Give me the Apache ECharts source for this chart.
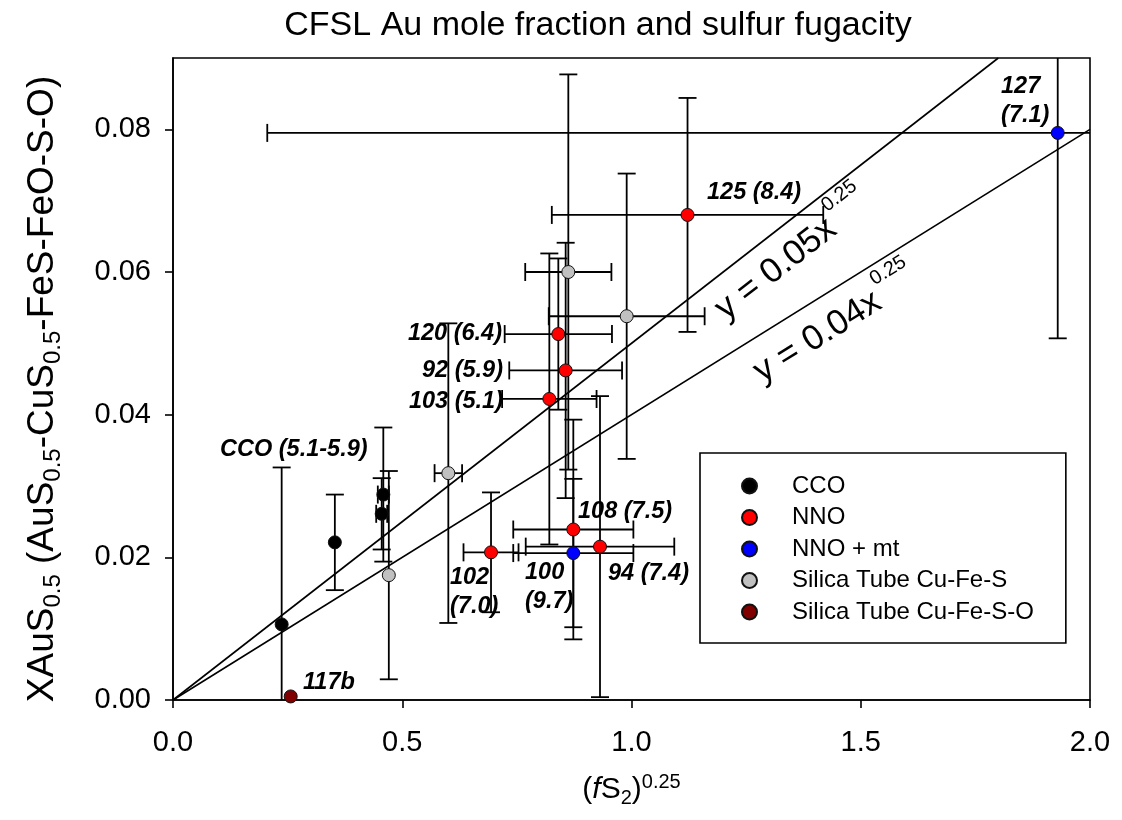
<!DOCTYPE html>
<html><head><meta charset="utf-8">
<script src="https://cdn.jsdelivr.net/npm/echarts@6/dist/echarts.min.js"></script>
<style>html,body{margin:0;padding:0;background:#fff}#c{width:1122px;height:820px}</style>
</head><body><div id="c"></div>
<script>
const FONT = '"Liberation Sans", Arial, Helvetica, sans-serif';

// ---------- data ----------
const legendNames = ['CCO', 'NNO', 'NNO + mt', 'Silica Tube Cu-Fe-S', 'Silica Tube Cu-Fe-S-O'];
const groupColors = ['#000000', '#ff0000', '#0000ff', '#c0c0c0', '#800000'];

const ccoX    = [0.237, 0.353, 0.4587, 0.4552];
const ccoY    = [0.0106, 0.0221, 0.0288, 0.0261];
const ccoXErr = [0, 0, 0.012, 0.012];
const ccoYErr = [0.022, 0.0067, 0.0094, 0.005];

const nnoX    = [1.1222, 0.8404, 0.8564, 0.8208, 0.8731, 0.6936, 0.9313];
const nnoY    = [0.0680, 0.0513, 0.0462, 0.0422, 0.0239, 0.0207, 0.0215];
const nnoXErr = [0.296, 0.117, 0.123, 0.103, 0.131, 0.060, 0.162];
const nnoYErr = [0.0164, 0.0106, 0.0179, 0.0204, 0.0154, 0.0084, 0.0211];

const mtX    = [1.9296, 0.8731];
const mtY    = [0.0795, 0.0206];
const mtXErr = [1.724, 0.131];
const mtYErr = [0.0288, 0.0104];

const stX    = [0.4707, 0.6005, 0.8622, 0.9895];
const stY    = [0.0175, 0.0318, 0.0600, 0.0538];
const stXErr = [0, 0.030, 0.094, 0.170];
const stYErr = [0.0146, 0.0210, 0.0277, 0.0200];

const stoX    = [0.2567];
const stoY    = [0.0005];
const stoXErr = [0];
const stoYErr = [0];

// trend lines y = k * (fS2)^0.25
const trendSlopes = [0.05, 0.04];
const trendText = ['y = 0.05x', 'y = 0.04x'];
const trendSup = '0.25';
const trendLabelX = [1.315, 1.4057];
const trendLabelY = [0.0604, 0.0509];

// point annotations (text, anchor in data units, alignment)
const annoText  = ['CCO (5.1-5.9)', '117b', '120 (6.4)', '92 (5.9)', '103 (5.1)', '125 (8.4)', '127\n(7.1)', '108 (7.5)', '102\n(7.0)', '100\n(9.7)', '94 (7.4)'];
const annoX     = [0.1025, 0.2835, 0.7176, 0.7197, 0.7197, 1.1647, 1.806, 0.8833, 0.6041, 0.7677, 0.9487];
const annoY     = [0.0351, 0.0024, 0.0514, 0.0462, 0.0419, 0.0711, 0.0839, 0.0264, 0.0152, 0.0158, 0.0178];
const annoAlign = ['left', 'left', 'right', 'right', 'right', 'left', 'left', 'left', 'left', 'left', 'left'];

const xTicks = [0, 0.5, 1.0, 1.5, 2.0];
const yTicks = [0, 0.02, 0.04, 0.06, 0.08];

// ---------- build ----------
const groups = [
  [ccoX, ccoY, ccoXErr, ccoYErr],
  [nnoX, nnoY, nnoXErr, nnoYErr],
  [mtX, mtY, mtXErr, mtYErr],
  [stX, stY, stXErr, stYErr],
  [stoX, stoY, stoXErr, stoYErr]
];

function errRender(params, api) {
  const x = api.value(0), y = api.value(1), xe = api.value(2), ye = api.value(3);
  const st = { stroke: '#000', lineWidth: 1.8, fill: null };
  const cap = 9;
  const ch = [];
  const L = (x1, y1, x2, y2) => ch.push({ type: 'line', shape: { x1, y1, x2, y2 }, style: st });
  if (ye > 0) {
    const t = api.coord([x, y + ye]), b = api.coord([x, y - ye]);
    L(t[0], t[1], b[0], b[1]);
    L(t[0] - cap, t[1], t[0] + cap, t[1]);
    L(b[0] - cap, b[1], b[0] + cap, b[1]);
  }
  if (xe > 0) {
    const l = api.coord([x - xe, y]), r = api.coord([x + xe, y]);
    L(l[0], l[1], r[0], r[1]);
    L(l[0], l[1] - cap, l[0], l[1] + cap);
    L(r[0], r[1] - cap, r[0], r[1] + cap);
  }
  const cs = params.coordSys;
  return { type: 'group', children: ch,
    clipPath: { type: 'rect', shape: { x: cs.x, y: cs.y, width: cs.width, height: cs.height } } };
}

const series = [];
groups.forEach((g, i) => {
  const d = g[0].map((v, k) => [v, g[1][k], g[2][k], g[3][k]]);
  series.push({
    name: 'err-' + i, type: 'custom', renderItem: errRender, data: d, z: 2, silent: true,
    encode: { x: 0, y: 1 }
  });
});
trendSlopes.forEach((k, i) => {
  const xEnd = Math.min(2, 0.09 / k);
  series.push({
    name: 'trend-' + i, type: 'line', data: [[0, 0], [xEnd, k * xEnd]],
    showSymbol: false, silent: true, z: 2,
    lineStyle: { color: '#000', width: 1.6 }
  });
});
groups.forEach((g, i) => {
  series.push({
    name: legendNames[i], type: 'scatter', z: 5,
    data: g[0].map((v, k) => [v, g[1][k]]),
    symbol: 'circle', symbolSize: 13,
    itemStyle: { color: groupColors[i], borderColor: '#111', borderWidth: 1, opacity: 1 }
  });
});

const chart = echarts.init(document.getElementById('c'), null, { renderer: 'canvas' });
const option = {
  animation: false,
  backgroundColor: '#fff',
  title: {
    text: 'CFSL Au mole fraction and sulfur fugacity',
    left: 593, top: 4, textAlign: 'center',
    textStyle: { fontSize: 34, fontWeight: 'normal', color: '#000', fontFamily: FONT }
  },
  grid: { left: 173, right: 32, top: 58, bottom: 120, show: true, borderColor: '#000', borderWidth: 1.6, backgroundColor: 'transparent' },
  legend: {
    data: legendNames, orient: 'vertical', left: 700, top: 453,
    itemWidth: 15, itemHeight: 15, itemGap: 7.5,
    padding: [21, 32, 19, 41],
    borderColor: '#000', borderWidth: 1.6, backgroundColor: '#fff',
    selectedMode: false,
    formatter: n => '{t|' + n + '}',
    textStyle: { fontSize: 24, color: '#000', fontFamily: FONT,
      rich: { t: { fontSize: 24, color: '#000', fontFamily: FONT, padding: [0, 0, 0, 30] } } }
  },
  xAxis: {
    type: 'value', min: 0, max: 2, interval: 0.5,
    axisLine: { lineStyle: { color: '#000', width: 1.6 } },
    axisTick: { length: 8, lineStyle: { color: '#000', width: 1.6 }, customValues: xTicks },
    axisLabel: { fontSize: 29, color: '#000', fontFamily: FONT, margin: 28, customValues: xTicks, formatter: v => v.toFixed(1) },
    splitLine: { show: false },
    name: '({i|f}{m|S}{s|2}{m|)}{p|0.25}', nameLocation: 'middle', nameGap: 72,
    nameTextStyle: {
      color: '#000', fontFamily: FONT,
      rich: {
        m: { fontSize: 30, lineHeight: 36, fontFamily: FONT, color: '#000' },
        i: { fontSize: 30, lineHeight: 36, fontStyle: 'italic', fontFamily: FONT, color: '#000' },
        s: { fontSize: 20, lineHeight: 16, verticalAlign: 'bottom', fontFamily: FONT, color: '#000' },
        p: { fontSize: 20, lineHeight: 16, verticalAlign: 'top', fontFamily: FONT, color: '#000' }
      },
      fontSize: 30, lineHeight: 36
    }
  },
  yAxis: {
    type: 'value', min: 0, max: 0.09, interval: 0.02,
    axisLine: { lineStyle: { color: '#000', width: 1.6 } },
    axisTick: { length: 8, lineStyle: { color: '#000', width: 1.6 }, customValues: yTicks },
    axisLabel: { fontSize: 29, color: '#000', fontFamily: FONT, margin: 22, customValues: yTicks, formatter: v => v.toFixed(2) },
    splitLine: { show: false },
    name: '{m|XAuS}{s|0.5}{m| (AuS}{s|0.5}{m|-CuS}{s|0.5}{m|-FeS-FeO-S-O)}',
    nameLocation: 'middle', nameRotate: 90, nameGap: 108,
    nameTextStyle: {
      color: '#000', fontFamily: FONT, padding: [0, 20, 0, 0],
      rich: {
        m: { fontSize: 37, lineHeight: 44, fontFamily: FONT, color: '#000' },
        s: { fontSize: 24, lineHeight: 20, verticalAlign: 'bottom', fontFamily: FONT, color: '#000' }
      },
      fontSize: 37, lineHeight: 44
    }
  },
  series: series
};
chart.setOption(option);

// ---------- annotations ----------
const measure = document.createElement('canvas').getContext('2d');
function textW(t, f) { measure.font = f; return measure.measureText(t).width; }

const graphics = [];
annoText.forEach((t, i) => {
  const p = chart.convertToPixel({ gridIndex: 0 }, [annoX[i], annoY[i]]);
  graphics.push({
    type: 'text', x: p[0], y: p[1], z: 10,
    style: {
      text: t, fill: '#000', fontSize: 23.5, fontWeight: 'bold', fontStyle: 'italic', fontFamily: FONT,
      align: annoAlign[i], verticalAlign: 'middle', lineHeight: 29
    }
  });
});
const mainSize = 35, supSize = 20;
trendSlopes.forEach((k, i) => {
  const a = chart.convertToPixel({ gridIndex: 0 }, [0, 0]);
  const b = chart.convertToPixel({ gridIndex: 0 }, [1, k]);
  const ang = Math.atan2(a[1] - b[1], b[0] - a[0]);
  const c = chart.convertToPixel({ gridIndex: 0 }, [trendLabelX[i], trendLabelY[i]]);
  const wMain = textW(trendText[i], mainSize + 'px ' + FONT);
  const wSup = textW(trendSup, supSize + 'px ' + FONT);
  graphics.push({
    type: 'group', x: c[0], y: c[1], rotation: ang, z: 10,
    children: [
      { type: 'text', x: 0, y: 0, style: { text: trendText[i], fill: '#000', fontSize: mainSize, fontFamily: FONT, align: 'center', verticalAlign: 'middle' } },
      { type: 'text', x: wMain / 2 + 4 + wSup / 2, y: -19, style: { text: trendSup, fill: '#000', fontSize: supSize, fontFamily: FONT, align: 'center', verticalAlign: 'middle' } }
    ]
  });
});
chart.setOption({ graphic: graphics });
</script>
</body></html>
